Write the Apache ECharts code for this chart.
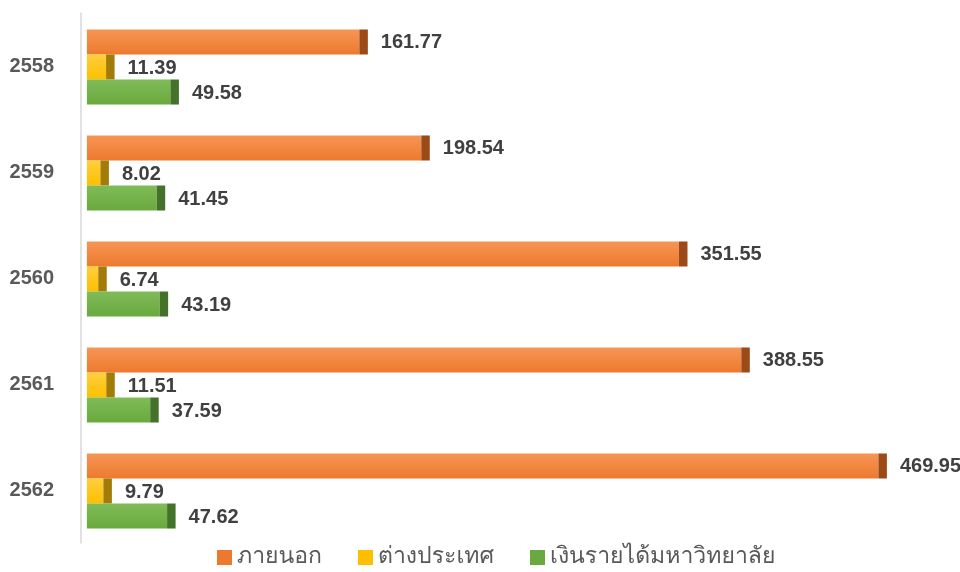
<!DOCTYPE html>
<html>
<head>
<meta charset="utf-8">
<script src="https://cdn.jsdelivr.net/npm/echarts@6/dist/echarts.min.js"></script>
<style>
  html, body { margin: 0; padding: 0; background: #fff; }
  #chart { width: 960px; height: 572px; }
</style>
</head>
<body>
<div id="chart"></div>
<script>
// years (top to bottom)
var years = ['2558', '2559', '2560', '2561', '2562'];
// budget by source
var external = [161.77, 198.54, 351.55, 388.55, 469.95];   // ภายนอก
var foreign = [11.39, 8.02, 6.74, 11.51, 9.79];             // ต่างประเทศ
var univIncome = [49.58, 41.45, 43.19, 37.59, 47.62];       // เงินรายได้มหาวิทยาลัย

var seriesNames = ['ภายนอก', 'ต่างประเทศ', 'เงินรายได้มหาวิทยาลัย'];
var seriesData = [external, foreign, univIncome];
var palette = [
  { light: '#f79555', base: '#ec7a2e', dark: '#9c4a18' },
  { light: '#ffcf3d', base: '#fdbf00', dark: '#a27b08' },
  { light: '#80bb57', base: '#69a93f', dark: '#44722a' }
];

var chart = echarts.init(document.getElementById('chart'));

// bar = value length + a dark end face, label after it
function makeRender(idx) {
  var c = palette[idx];
  var capW = 8.5;
  return function (params, api) {
    var val = api.value(0);
    var cat = api.value(1);
    var start = api.coord([0, cat]);
    var end = api.coord([val, cat]);
    var band = api.size([0, 1])[1];
    var h = band * 0.236;
    var y = end[1] - h * 1.5 + idx * h + 1;
    var w = end[0] - start[0];
    return {
      type: 'group',
      children: [
        {
          type: 'rect',
          shape: { x: start[0], y: y, width: w, height: h },
          style: {
            fill: new echarts.graphic.LinearGradient(0, 0, 0, 1, [
              { offset: 0, color: c.light },
              { offset: 1, color: c.base }
            ])
          }
        },
        {
          type: 'rect',
          shape: { x: end[0], y: y, width: capW, height: h },
          style: { fill: c.dark }
        },
        {
          type: 'text',
          style: {
            x: end[0] + capW + 13,
            y: y + h / 2 + 1,
            text: val.toFixed(2),
            fill: '#404040',
            font: 'bold 20px "Liberation Sans", Arial, sans-serif',
            verticalAlign: 'middle',
            align: 'left'
          }
        }
      ]
    };
  };
}

var series = seriesNames.map(function (name, i) {
  return {
    name: name,
    type: 'custom',
    renderItem: makeRender(i),
    encode: { x: 0, y: 1 },
    itemStyle: { color: palette[i].base },
    data: seriesData[i].map(function (v, k) { return [v, k]; })
  };
});

chart.setOption({
  animation: false,
  grid: { left: 81, right: 31, top: 13, bottom: 29 },
  legend: {
    bottom: -2,
    left: 212,
    icon: 'rect',
    itemWidth: 15,
    itemHeight: 15,
    itemGap: 36,
    textStyle: {
      fontSize: 23,
      color: '#595959',
      fontFamily: 'Tahoma, Loma, Garuda, Norasi, "Noto Sans Thai", "Noto Sans", sans-serif'
    },
    data: seriesNames
  },
  xAxis: {
    type: 'value',
    min: -3.5,
    max: 500,
    show: false
  },
  yAxis: {
    type: 'category',
    data: years,
    inverse: true,
    axisLine: { show: true, onZero: false, lineStyle: { color: '#d9d9d9', width: 1.5 } },
    axisTick: { show: false },
    axisLabel: {
      margin: 27,
      fontSize: 20,
      fontWeight: 'bold',
      color: '#595959',
      fontFamily: '"Liberation Sans", Arial, sans-serif'
    }
  },
  series: series
});
</script>
</body>
</html>
